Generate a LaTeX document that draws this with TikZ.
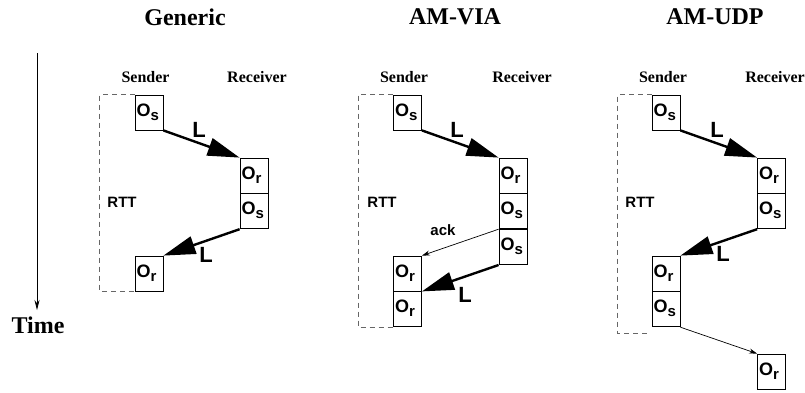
\documentclass[tikz,border=0pt]{standalone}
\usepackage{fontspec}
\setmainfont{Liberation Serif}
\setsansfont{Liberation Sans}
\usetikzlibrary{positioning,arrows.meta}

\newcommand{\ovh}[1]{O\raisebox{-4pt}{\fontsize{15}{15}\selectfont #1}}

\begin{document}
\begin{tikzpicture}[x=1pt,y=-1pt,
  tbox/.style={draw, line width=0.8pt, text width=25pt, inner xsep=1.5pt, inner ysep=0pt,
    text height=21pt, text depth=14pt, align=left,
    font=\sffamily\bfseries\fontsize{18}{18}\selectfont},
  title/.style={font=\bfseries\fontsize{24}{24}\selectfont},
  role/.style={font=\bfseries\fontsize{16}{16}\selectfont},
  lat/.style={font=\sffamily\bfseries\fontsize{22}{22}\selectfont},
  small/.style={font=\sffamily\bfseries\fontsize{15}{15}\selectfont},
  big/.style={line width=2.4pt, -{Triangle[length=32pt,width=18pt]}},
  thin/.style={line width=0.7pt, -{Stealth[length=8pt,width=5pt]}},
  rttline/.style={black!60, line width=0.8pt, dash pattern=on 5pt off 4pt},
  ]
  \useasboundingbox (0,0) rectangle (805,392);

  % time axis
  \coordinate (t0) at (37,53);
  \coordinate (t1) at (37,310);
  \draw[line width=0.8pt, -{Stealth[length=10pt,width=5pt]}] (t0) -- (t1);
  \node[title] (time) at (38,325) {Time};

  % Generic
  \node[title] (gT) at (185,17) {Generic};
  \node[role] (gSnd) at (145.5,77) {Sender};
  \node[role] (gRcv) at (257,77) {Receiver};
  \node[tbox] (gS1) at (149,112.5) {\ovh{s}};
  \node[tbox] (gR1) at (254,175.5) {\ovh{r}};
  \node[tbox, below=0pt of gR1] (gR2) {\ovh{s}};
  \node[tbox] (gS2) at (149,273.5) {\ovh{r}};
  \draw[big] (gS1.south east) -- (gR1.north west);
  \draw[big] (gR2.south west) -- (gS2.north east);
  \node[lat] (gL1) at (199,130) {L};
  \node[lat] (gL2) at (206,255) {L};
  \draw[rttline] (gS1.north west) -- ++(-35,0) |- (gS2.south west);
  \node[small] (gRTT) at (122,202) {RTT};

  % AM-VIA
  \node[title] (vT) at (455,17) {AM-VIA};
  \node[role] (vSnd) at (404,77) {Sender};
  \node[role] (vRcv) at (522,77) {Receiver};
  \node[tbox] (vS1) at (407.5,112.5) {\ovh{s}};
  \node[tbox] (vR1) at (513,175.5) {\ovh{r}};
  \node[tbox, below=0pt of vR1] (vR2) {\ovh{s}};
  \node[tbox, below=0pt of vR2] (vR3) {\ovh{s}};
  \node[tbox] (vS2) at (407.5,273.5) {\ovh{r}};
  \node[tbox, below=0pt of vS2] (vS3) {\ovh{r}};
  \draw[big] (vS1.south east) -- (vR1.north west);
  \draw[thin] (vR2.south west) -- (vS2.north east);
  \draw[big] (vR3.south west) -- (vS2.south east);
  \node[lat] (vL1) at (457,130) {L};
  \node[lat] (vL2) at (465,295) {L};
  \node[small] (vAck) at (443,230) {ack};
  \draw[rttline] (vS1.north west) -- ++(-35,0) |- (vS3.south west);
  \node[small] (vRTT) at (382,202) {RTT};

  % AM-UDP
  \node[title] (uT) at (715,17) {AM-UDP};
  \node[role] (uSnd) at (663,77) {Sender};
  \node[role] (uRcv) at (775,77) {Receiver};
  \node[tbox] (uS1) at (666,112.5) {\ovh{s}};
  \node[tbox] (uR1) at (771.5,175.5) {\ovh{r}};
  \node[tbox, below=0pt of uR1] (uR2) {\ovh{s}};
  \node[tbox] (uS2) at (666,273.5) {\ovh{r}};
  \node[tbox, below=0pt of uS2] (uS3) {\ovh{s}};
  \node[tbox] (uR3) at (771.5,371.5) {\ovh{r}};
  \draw[big] (uS1.south east) -- (uR1.north west);
  \draw[big] (uR2.south west) -- (uS2.north east);
  \draw[thin] (uS3.south east) -- (uR3.north west);
  \node[lat] (uL1) at (717,130) {L};
  \node[lat] (uL2) at (723,254) {L};
  \draw[rttline] (uS1.north west) -- ++(-34,0) |- ([shift={(-4,6)}]uS3.south west);
  \node[small] (uRTT) at (640,202) {RTT};
\end{tikzpicture}
\end{document}
